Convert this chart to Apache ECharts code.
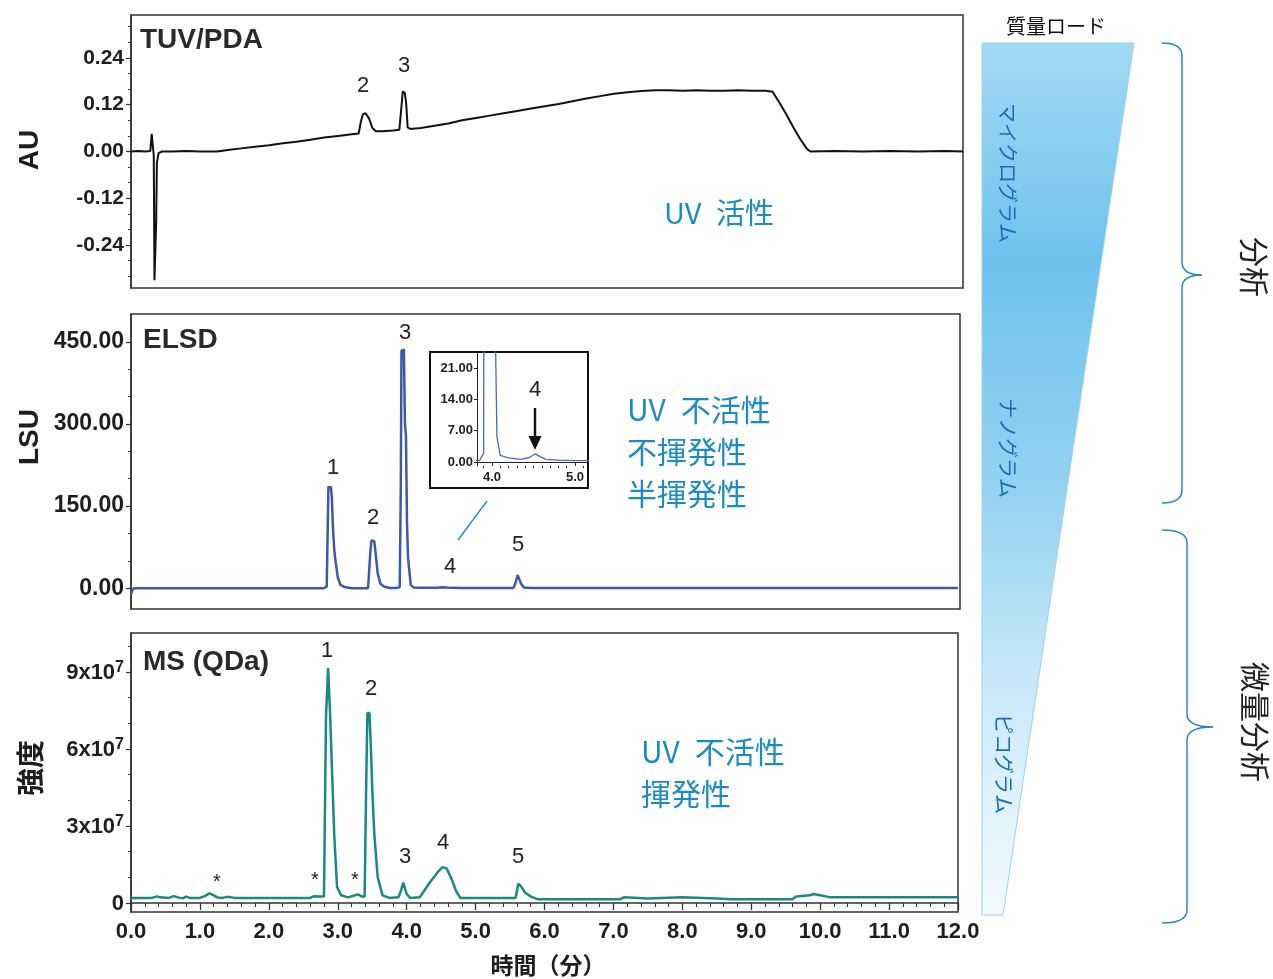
<!DOCTYPE html>
<html>
<head>
<meta charset="utf-8">
<script src="https://cdn.jsdelivr.net/npm/echarts@6/dist/echarts.min.js"></script>
<style>
html,body{margin:0;padding:0;background:#fff;}
#chart{width:1273px;height:979px;}
</style>
</head>
<body>
<div id="chart"></div>
<script>
// ---------- DATA ----------
// TUV/PDA trace (time in min, absorbance in AU)
const tuvTime = [0.00,0.10,0.20,0.28,0.30,0.32,0.33,0.34,0.355,0.365,0.375,0.40,0.45,0.60,0.80,1.00,1.25,1.40,1.60,1.80,2.00,2.20,2.40,2.60,2.80,3.00,3.20,3.30,3.33,3.36,3.40,3.45,3.50,3.55,3.65,3.80,3.89,3.92,3.94,3.97,3.99,4.01,4.05,4.20,4.40,4.60,4.80,5.00,5.20,5.40,5.60,5.80,6.00,6.20,6.40,6.60,6.80,7.00,7.20,7.40,7.60,7.80,8.00,8.20,8.40,8.60,8.80,9.00,9.20,9.30,9.40,9.50,9.60,9.70,9.80,9.85,10.20,10.60,11.00,11.40,11.80,12.06];
const tuvAU   = [0.000,0.001,0.000,0.001,0.045,0.040,-0.010,-0.330,-0.335,-0.180,-0.030,-0.004,0.000,0.000,0.001,0.000,0.000,0.004,0.008,0.012,0.016,0.021,0.025,0.030,0.036,0.040,0.044,0.046,0.075,0.095,0.098,0.085,0.060,0.052,0.052,0.054,0.056,0.115,0.154,0.150,0.120,0.062,0.058,0.060,0.066,0.072,0.080,0.086,0.092,0.098,0.104,0.110,0.116,0.122,0.129,0.136,0.142,0.148,0.152,0.155,0.157,0.157,0.156,0.157,0.156,0.156,0.157,0.156,0.156,0.153,0.125,0.095,0.062,0.032,0.006,0.000,0.001,0.000,0.001,0.000,0.001,0.000];

// ELSD trace (time in min, LSU)
const elsdTime = [0.00,0.02,0.05,0.50,1.00,2.00,2.80,2.84,2.855,2.865,2.875,2.89,2.90,2.915,2.93,2.95,2.97,3.00,3.04,3.10,3.20,3.44,3.46,3.475,3.49,3.53,3.545,3.58,3.62,3.67,3.75,3.85,3.90,3.915,3.925,3.96,3.975,3.99,4.005,4.02,4.06,4.10,4.20,4.35,4.45,4.52,4.58,4.65,4.80,5.00,5.55,5.58,5.61,5.63,5.66,5.70,5.80,7.00,9.00,12.00];
const elsdLSU  = [-12,-3,0,0,0,0,0,3,111,186,188,182,186,165,111,70,48,20,6,2,0,0,3,69,87,86,69,27,8,3,0.5,0.3,2,185,434,436,300,279,120,56,5.6,1.5,0.9,0.6,1.0,1.8,1.2,0.6,0.4,0.3,0.3,10,24,22,8,1.5,0.5,0.5,0.5,0.5];

// MS (QDa) trace (time in min, intensity in units of 10^7)
const msTime = [0.00,0.30,0.38,0.42,0.55,0.62,0.68,0.75,0.80,0.85,1.00,1.08,1.14,1.20,1.25,1.32,1.40,1.50,2.00,2.60,2.65,2.75,2.80,2.81,2.83,2.86,2.88,2.89,2.91,2.95,2.99,3.05,3.15,3.25,3.30,3.35,3.39,3.41,3.43,3.46,3.48,3.50,3.53,3.58,3.65,3.75,3.88,3.92,3.95,3.97,4.00,4.05,4.19,4.33,4.45,4.52,4.58,4.65,4.72,4.78,5.00,5.58,5.62,5.66,5.72,5.80,5.90,7.10,7.15,7.50,8.00,8.50,8.70,9.60,9.65,9.85,9.90,10.00,10.15,12.00];
const msIntensity = [0.20,0.20,0.26,0.22,0.20,0.27,0.22,0.18,0.25,0.20,0.20,0.28,0.38,0.30,0.22,0.20,0.24,0.20,0.20,0.20,0.26,0.25,0.25,2.65,7.3,9.15,9.15,7.3,5.7,2.6,0.62,0.30,0.22,0.30,0.33,0.25,0.25,4.1,7.4,7.4,6.1,4.5,2.7,1.0,0.30,0.20,0.22,0.50,0.80,0.80,0.35,0.20,0.22,0.78,1.20,1.40,1.35,0.95,0.45,0.20,0.20,0.20,0.75,0.65,0.40,0.25,0.15,0.15,0.22,0.18,0.22,0.18,0.15,0.15,0.25,0.30,0.35,0.30,0.22,0.22];

// Tick values
const auTicks = [-0.24,-0.12,0,0.12,0.24];
const auMinor = [-0.32,-0.28,-0.20,-0.16,-0.08,-0.04,0.04,0.08,0.16,0.20,0.28,0.32];
const lsuTicks = [0,150,300,450];
const lsuMinor = [50,100,200,250,350,400];
const msTicks = [0,3,6,9];
const msMinor = [1,2,4,5,7,8,10];
const insetYTicks = [0,7,14,21];
const insetXTicks = [4,5];
const insetXMinor = [3.9,4.1,4.2,4.3,4.4,4.5,4.6,4.7,4.8,4.9,5.1];

// ---------- CHART ----------
const zip = (a,b)=>a.map((v,i)=>[v,b[i]]);
const LAT = "'Liberation Sans', Arial, sans-serif";
const CJK = "'Noto Sans CJK JP', sans-serif";
const tickCol = '#333';
const labCol = '#1e1e1e';
const blue = '#1b8bc6';

function majorY(gi, min, max, ticks, fmt, fs, extra){
  return Object.assign({
    gridIndex: gi, type:'value', min, max, position:'left',
    axisLine:{show:true, lineStyle:{color:tickCol, width:1.5}},
    axisTick:{show:true, customValues: ticks, length:5, lineStyle:{color:tickCol, width:1.2}},
    axisLabel:{customValues: ticks, formatter: fmt, fontSize:fs, fontWeight:'bold', color:labCol, margin:7, fontFamily:LAT},
    splitLine:{show:false}
  }, extra||{});
}
function minorY(gi, min, max, ticks){
  return {
    gridIndex: gi, type:'value', min, max, position:'left',
    axisLine:{show:false},
    axisTick:{show:true, customValues: ticks, length:3, lineStyle:{color:tickCol, width:1}},
    axisLabel:{show:false},
    splitLine:{show:false}
  };
}

const texts = [];
function T(x,y,text,opt){
  const el = {type:'text', x, y, silent:true, z:50,
    style:Object.assign({text, align:'center', verticalAlign:'middle', fill:'#222', font:'22px '+LAT}, (opt&&opt.style)||{})};
  if (opt && opt.rotation !== undefined) el.rotation = opt.rotation;
  texts.push(el);
}

// axis titles
T(30,150,'AU',{rotation:Math.PI/2, style:{font:'bold 28px '+LAT, fill:'#1e1e1e'}});
T(30,437,'LSU',{rotation:Math.PI/2, style:{font:'bold 28px '+LAT, fill:'#1e1e1e'}});
T(30,768,'強度',{rotation:Math.PI/2, style:{font:'bold 28px '+CJK, fill:'#1e1e1e'}});
T(548,965,'時間（分）',{style:{font:'bold 23px '+CJK, fill:'#1e1e1e'}});
// panel titles
T(140,40,'TUV/PDA',{style:{align:'left', font:'bold 28px '+LAT, fill:'#2a2a2a'}});
T(143,340,'ELSD',{style:{align:'left', font:'bold 28px '+LAT, fill:'#2a2a2a'}});
T(143,662,'MS (QDa)',{style:{align:'left', font:'bold 28px '+LAT, fill:'#2a2a2a'}});
// peak labels
T(363,86,'2'); T(404,66,'3');
T(333,468,'1'); T(373,518,'2'); T(405,333,'3'); T(450,567,'4'); T(518,545,'5');
T(327,651,'1'); T(371,689,'2'); T(405,857,'3'); T(443,843,'4'); T(518,857,'5');
T(217,882,'*',{style:{font:'20px '+LAT}}); T(315,880,'*',{style:{font:'20px '+LAT}}); T(355,880,'*',{style:{font:'20px '+LAT}});
T(535,390,'4');
// blue annotations
T(719,213,'UV\u2002活性',{style:{font:'29px '+CJK, fill:blue}});
T(627,410,'UV\u2002不活性',{style:{align:'left', font:'30px '+CJK, fill:blue}});
T(627,452,'不揮発性',{style:{align:'left', font:'30px '+CJK, fill:blue}});
T(627,494,'半揮発性',{style:{align:'left', font:'30px '+CJK, fill:blue}});
T(641,752,'UV\u2002不活性',{style:{align:'left', font:'30px '+CJK, fill:blue}});
T(641,794,'揮発性',{style:{align:'left', font:'30px '+CJK, fill:blue}});
// right side
T(1056,26,'質量ロード',{style:{font:'20px '+CJK, fill:'#111'}});
T(1008,173,'マイクログラム',{rotation:-Math.PI/2, style:{font:'20px '+CJK, fill:'#1a6db5'}});
T(1008,448,'ナノグラム',{rotation:-Math.PI/2, style:{font:'20px '+CJK, fill:'#1a6db5'}});
T(1004,764,'ピコグラム',{rotation:-Math.PI/2, style:{font:'20px '+CJK, fill:'#1a6db5'}});
T(1254,267,'分析',{rotation:-Math.PI/2, style:{font:'30px '+CJK, fill:'#222'}});
T(1255,722,'微量分析',{rotation:-Math.PI/2, style:{font:'30px '+CJK, fill:'#222'}});

// curly brace built from lines and quadratic curves
function brace(xEnd, xLine, xTip, yTop, yTip, yBot){
  const st = {stroke:'#2a88b8', lineWidth:1.5, fill:null};
  const r = 13;
  return [
    {type:'bezierCurve', silent:true, shape:{x1:xEnd, y1:yTop, cpx1:xLine, cpy1:yTop, x2:xLine, y2:yTop+r}, style:st},
    {type:'line', silent:true, shape:{x1:xLine, y1:yTop+r, x2:xLine, y2:yTip-r}, style:st},
    {type:'bezierCurve', silent:true, shape:{x1:xLine, y1:yTip-r, cpx1:xLine, cpy1:yTip, x2:xTip, y2:yTip}, style:st},
    {type:'bezierCurve', silent:true, shape:{x1:xTip, y1:yTip, cpx1:xLine, cpy1:yTip, x2:xLine, y2:yTip+r}, style:st},
    {type:'line', silent:true, shape:{x1:xLine, y1:yTip+r, x2:xLine, y2:yBot-r}, style:st},
    {type:'bezierCurve', silent:true, shape:{x1:xLine, y1:yBot-r, cpx1:xLine, cpy1:yBot, x2:xEnd, y2:yBot}, style:st}
  ];
}

const shapes = [
  {type:'polygon', z:1, silent:true, shape:{points:[[982,43],[1134,43],[1003,915],[982,915]]},
   style:{stroke:'#9ad3ee', lineWidth:1,
     fill:{type:'linear', x:0, y:0, x2:0, y2:1, colorStops:[
       {offset:0, color:'#a3d9f4'},{offset:0.25, color:'#6ec2ec'},{offset:0.5, color:'#92d1f1'},
       {offset:0.75, color:'#cbeaf9'},{offset:1, color:'#f3fafe'}]}}}
].concat(brace(1162,1182,1202,43,275,503), brace(1162,1187,1213,530,727,923), [
  // inset frame
  {type:'rect', z:-1, silent:true, shape:{x:430, y:352, width:158, height:136}, style:{fill:'#fff', stroke:'#111', lineWidth:2}},
  // pointer line from peak 4 to inset
  {type:'line', z:1, silent:true, shape:{x1:458, y1:540, x2:487, y2:501}, style:{stroke:'#1a8ac0', lineWidth:1.3}},
  // arrow in inset
  {type:'line', z:60, silent:true, shape:{x1:535, y1:408, x2:535, y2:440}, style:{stroke:'#111', lineWidth:2.5}},
  {type:'polygon', z:60, silent:true, shape:{points:[[528.5,436],[541.5,436],[535,450]]}, style:{fill:'#111'}}
]);

const msFmt = v => v===0 ? '{m|0}' : '{m|'+v+'x10}{s|7}';

const option = {
  animation:false,
  backgroundColor:'#fff',
  grid:[
    {left:131, top:15, width:832, height:273, show:true, borderColor:'#333', borderWidth:1.5},
    {left:131, top:314, width:829, height:295, show:true, borderColor:'#333', borderWidth:1.5},
    {left:131, top:633, width:827, height:279, show:true, borderColor:'#333', borderWidth:1.5},
    {left:477, top:352, width:110, height:114, show:false}
  ],
  xAxis:[
    {gridIndex:0, type:'value', min:0, max:12.06, show:false},
    {gridIndex:1, type:'value', min:0, max:12.03, show:false},
    {gridIndex:2, type:'value', min:0, max:12, interval:1, position:'bottom',
     axisLine:{show:true, lineStyle:{color:tickCol, width:1.5}},
     axisTick:{show:true, length:7, lineStyle:{color:tickCol, width:1.3}},
     minorTick:{show:true, splitNumber:5, length:4, lineStyle:{color:tickCol, width:1}},
     axisLabel:{formatter:v=>v.toFixed(1), fontSize:22, fontWeight:'bold', color:labCol, margin:9, fontFamily:LAT, showMinLabel:true, showMaxLabel:true, hideOverlap:false},
     splitLine:{show:false}},
    {gridIndex:3, type:'value', min:3.82, max:5.145, position:'bottom',
     axisLine:{show:true, lineStyle:{color:'#222', width:1}},
     axisTick:{show:true, customValues:insetXTicks, length:4, lineStyle:{color:'#222'}},
     axisLabel:{customValues:insetXTicks, formatter:v=>v.toFixed(1), fontSize:13, fontWeight:'bold', color:labCol, margin:5, fontFamily:LAT},
     splitLine:{show:false}},
    {gridIndex:3, type:'value', min:3.82, max:5.145, position:'bottom',
     axisLine:{show:false},
     axisTick:{show:true, customValues:insetXMinor, length:2, lineStyle:{color:'#222'}},
     axisLabel:{show:false}, splitLine:{show:false}}
  ],
  yAxis:[
    majorY(0,-0.35,0.35,auTicks,v=>v.toFixed(2),21),
    minorY(0,-0.35,0.35,auMinor),
    majorY(1,-38,501,lsuTicks,v=>v.toFixed(2),23),
    minorY(1,-38,501,lsuMinor),
    majorY(2,-0.35,10.52,msTicks,msFmt,22,{
      axisLabel:{customValues:msTicks, formatter:msFmt, color:labCol, margin:7,
        rich:{m:{fontSize:22, fontWeight:'bold', fontFamily:LAT, color:labCol, lineHeight:24, verticalAlign:'bottom'},
              s:{fontSize:16, fontWeight:'bold', fontFamily:LAT, color:labCol, lineHeight:24, verticalAlign:'top'}}}}),
    minorY(2,-0.35,10.52,msMinor),
    {gridIndex:3, type:'value', min:-0.9, max:24.6, position:'left',
     axisLine:{show:true, lineStyle:{color:'#222', width:1}},
     axisTick:{show:true, customValues:insetYTicks, length:3, lineStyle:{color:'#222'}},
     axisLabel:{customValues:insetYTicks, formatter:v=>v.toFixed(2), fontSize:13, fontWeight:'bold', color:labCol, margin:4, fontFamily:LAT},
     splitLine:{show:false}}
  ],
  series:[
    {type:'line', xAxisIndex:0, yAxisIndex:0, data:zip(tuvTime,tuvAU), showSymbol:false, lineStyle:{color:'#111', width:2}},
    {type:'line', xAxisIndex:1, yAxisIndex:2, data:zip(elsdTime,elsdLSU), showSymbol:false, lineStyle:{color:'#3d5aa8', width:2.5}},
    {type:'line', xAxisIndex:2, yAxisIndex:4, data:zip(msTime,msIntensity), showSymbol:false, lineStyle:{color:'#188a80', width:2.5}},
    {type:'line', xAxisIndex:3, yAxisIndex:6, data:zip(elsdTime,elsdLSU), showSymbol:false, clip:true, lineStyle:{color:'#5068b0', width:1.3}}
  ],
  graphic: shapes.concat(texts)
};

const chart = echarts.init(document.getElementById('chart'), null, {renderer:'canvas'});
chart.setOption(option);
</script>
</body>
</html>
